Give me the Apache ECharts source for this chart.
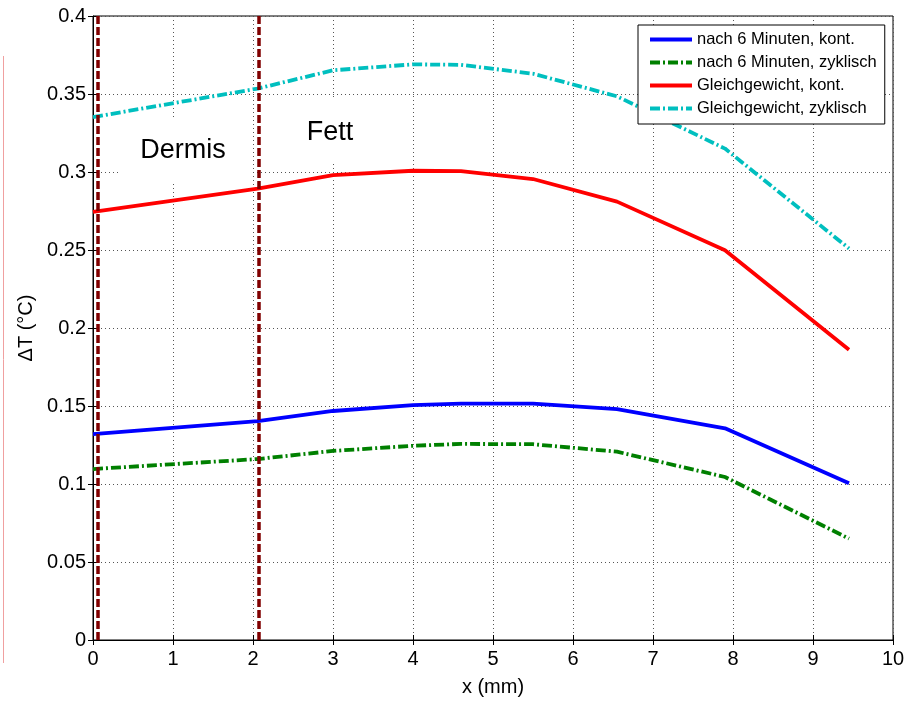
<!DOCTYPE html>
<html>
<head>
<meta charset="utf-8">
<script src="https://cdn.jsdelivr.net/npm/echarts@6/dist/echarts.min.js"></script>
<style>
    html, body { margin: 0; padding: 0; background: #fff; }
    #chart { width: 920px; height: 703px; }
</style>
</head>
<body>
<div id="chart"></div>
<script>
// Tiefe (mm) der Stützstellen
var xPos = [0, 2.06, 3.0, 4.0, 4.6, 5.5, 6.55, 7.9, 9.45];
// Temperaturerhöhung (°C)
var nach6Kont = [0.132, 0.1403, 0.1468, 0.1505, 0.1515, 0.1515, 0.148, 0.1357, 0.1005];
var nach6Zykl = [0.1096, 0.116, 0.1212, 0.1245, 0.1257, 0.1255, 0.1207, 0.1045, 0.065];
var gleichKont = [0.2744, 0.2893, 0.298, 0.3008, 0.3005, 0.2955, 0.281, 0.2498, 0.186];
var gleichZykl = [0.3352, 0.3535, 0.3652, 0.369, 0.3687, 0.363, 0.3485, 0.315, 0.251];
// Schichtgrenzen
var layerBounds = [0.06, 2.07];
var seriesNames = [
    "nach 6 Minuten, kont.",
    "nach 6 Minuten, zyklisch",
    "Gleichgewicht, kont.",
    "Gleichgewicht, zyklisch"
];

var font = "Liberation Sans, Arial, sans-serif";
var dashDot = [10, 3, 2, 3];

function pairs(ys) {
    return xPos.map(function(x, i) { return [x, ys[i]]; });
}

function lineSeries(name, ys, color, dash) {
    return {
        name: name,
        type: "line",
        data: pairs(ys),
        showSymbol: false,
        symbol: "none",
        smooth: false,
        lineStyle: { color: color, width: 3.8, type: dash },
        itemStyle: { color: color },
        z: 3
    };
}

var chart = echarts.init(document.getElementById("chart"));

var series = [
    lineSeries(seriesNames[0], nach6Kont, "#0000ff", "solid"),
    lineSeries(seriesNames[1], nach6Zykl, "#008000", dashDot),
    lineSeries(seriesNames[2], gleichKont, "#ff0000", "solid"),
    lineSeries(seriesNames[3], gleichZykl, "#00bfbf", dashDot)
];
// gestrichelte Schichtgrenzen
series[0].markLine = {
    silent: true,
    symbol: "none",
    label: { show: false },
    lineStyle: { color: "#800000", width: 3.5, type: [8, 3] },
    data: layerBounds.map(function(v) { return { xAxis: v }; })
};

var tickStyle = { inside: true, length: 5, lineStyle: { color: "#000" } };

var option = {
    animation: false,
    backgroundColor: "#fff",
    textStyle: { fontFamily: font },
    grid: {
        left: 93, right: 27, top: 16, bottom: 63,
        show: true, borderColor: "#000", borderWidth: 1
    },
    legend: {
        orient: "vertical",
        left: 638,
        top: 25,
        data: seriesNames,
        itemWidth: 42,
        itemHeight: 14,
        itemGap: 6,
        padding: [6, 8, 7, 10],
        backgroundColor: "#fff",
        borderColor: "#000",
        borderWidth: 1,
        borderRadius: 0,
        itemStyle: { opacity: 0 },
        lineStyle: { width: 4 },
        textStyle: { fontSize: 16.5, color: "#000", fontFamily: font }
    },
    xAxis: [{
        type: "value",
        min: 0, max: 10, interval: 1,
        name: "x (mm)",
        nameLocation: "middle",
        nameGap: 37,
        nameTextStyle: { fontSize: 20, color: "#000", fontFamily: font },
        axisLine: { onZero: false, lineStyle: { color: "#000" } },
        axisTick: tickStyle,
        axisLabel: { fontSize: 20, color: "#000", margin: 9, fontFamily: font },
        splitLine: { show: true, lineStyle: { color: "#555", type: [1, 3], width: 1 } }
    }, {
        type: "value",
        position: "top",
        min: 0, max: 10, interval: 1,
        axisLine: { show: false },
        axisTick: tickStyle,
        axisLabel: { show: false },
        splitLine: { show: false }
    }],
    yAxis: [{
        type: "value",
        min: 0, max: 0.4, interval: 0.05,
        name: "\u0394T (\u00b0C)",
        nameLocation: "middle",
        nameGap: 52,
        nameTextStyle: { fontSize: 20, color: "#000", fontFamily: font },
        axisLine: { show: true, lineStyle: { color: "#000" } },
        axisTick: tickStyle,
        axisLabel: { fontSize: 20, color: "#000", margin: 7, fontFamily: font },
        splitLine: { show: true, lineStyle: { color: "#555", type: [1, 3], width: 1 } }
    }, {
        type: "value",
        position: "right",
        min: 0, max: 0.4, interval: 0.05,
        axisLine: { show: false },
        axisTick: tickStyle,
        axisLabel: { show: false },
        splitLine: { show: false }
    }],
    graphic: [
        {
            type: "line",
            shape: { x1: 3.5, y1: 56, x2: 3.5, y2: 663 },
            style: { stroke: "#f0a0a0", lineWidth: 1 },
            silent: true
        },
        {
            type: "rect",
            shape: { x: 118, y: 120, width: 132, height: 63 },
            style: { fill: "#fff" },
            z: 1
        },
        {
            type: "rect",
            shape: { x: 283, y: 100, width: 114, height: 63 },
            style: { fill: "#fff" },
            z: 1
        },
        {
            type: "text",
            x: 183, y: 151,
            style: {
                text: "Dermis", fill: "#000", font: "27px " + font,
                textAlign: "center", textVerticalAlign: "middle"
            },
            z: 5
        },
        {
            type: "text",
            x: 330, y: 133,
            style: {
                text: "Fett", fill: "#000", font: "27px " + font,
                textAlign: "center", textVerticalAlign: "middle"
            },
            z: 5
        }
    ],
    series: series
};

chart.setOption(option);
</script>
</body>
</html>
